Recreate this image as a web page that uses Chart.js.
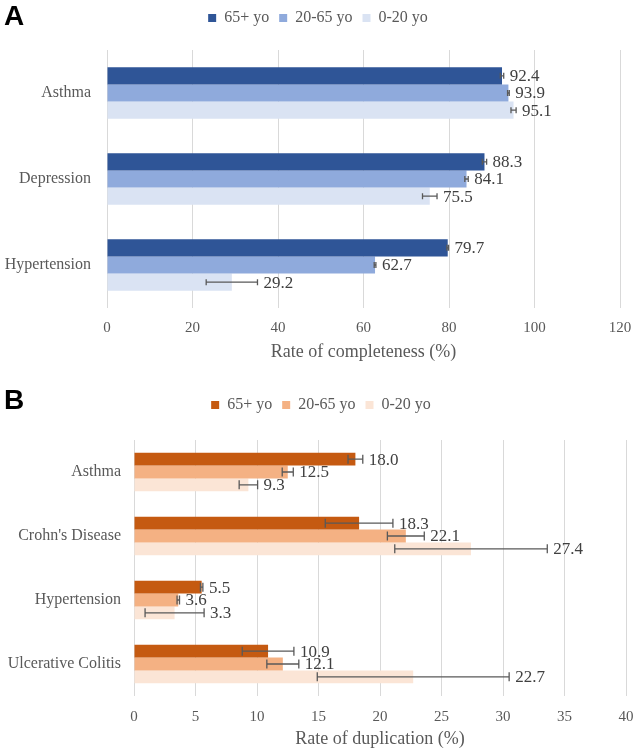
<!DOCTYPE html>
<html>
<head>
<meta charset="utf-8">
<script src="https://cdn.jsdelivr.net/npm/chart.js@4/dist/chart.umd.min.js"></script>
<style>
  html, body { margin: 0; padding: 0; background: #fff; }
  body { width: 633px; height: 754px; position: relative; overflow: hidden; }
  .panel { position: absolute; left: 0; width: 633px; }
  #boxA { top: 0; height: 375px; }
  #boxB { top: 387px; height: 367px; }
  .tag { position: absolute; left: 4px; font: bold 28px "Liberation Sans", Arial, sans-serif; color: #000; }
</style>
</head>
<body>
<div class="panel" id="boxA"><canvas id="chartA"></canvas></div>
<div class="panel" id="boxB"><canvas id="chartB"></canvas></div>
<div class="tag" style="top:0px">A</div>
<div class="tag" style="top:384px">B</div>
<script>
// legend names
var ageGroups = ['65+ yo', '20-65 yo', '0-20 yo'];

// A. completeness
var diseasesA = ['Asthma', 'Depression', 'Hypertension'];
var completeOld = [92.4, 88.3, 79.7];
var completeAdult = [93.9, 84.1, 62.7];
var completeYoung = [95.1, 75.5, 29.2];
var completeOldErr = [0.4, 0.5, 0.2];
var completeAdultErr = [0.2, 0.4, 0.2];
var completeYoungErr = [0.6, 1.7, 6.0];
var ticksA = [0, 20, 40, 60, 80, 100, 120];

// B. duplication
var diseasesB = ['Asthma', "Crohn's Disease", 'Hypertension', 'Ulcerative Colitis'];
var dupOld = [18.0, 18.3, 5.5, 10.9];
var dupAdult = [12.5, 22.1, 3.6, 12.1];
var dupYoung = [9.3, 27.4, 3.3, 22.7];
var dupOldErr = [0.6, 2.75, 0.1, 2.1];
var dupAdultErr = [0.45, 1.5, 0.1, 1.3];
var dupYoungErr = [0.75, 6.2, 2.4, 7.8];
var ticksB = [0, 5, 10, 15, 20, 25, 30, 35, 40];

var serif = '"Liberation Serif", "Times New Roman", serif';
var grey = '#595959';

// error bars + value labels
var errorBars = {
  id: 'errorBars',
  afterDatasetsDraw: function(chart, args, opts) {
    var ctx = chart.ctx;
    var xs = chart.scales.x;
    chart.data.datasets.forEach(function(ds, i) {
      var meta = chart.getDatasetMeta(i);
      meta.data.forEach(function(bar, j) {
        var v = ds.data[j], e = ds.errors[j];
        var x0 = xs.getPixelForValue(v - e);
        var x1 = xs.getPixelForValue(v + e);
        var y = bar.y;
        ctx.save();
        ctx.strokeStyle = grey;
        ctx.lineWidth = 1.3;
        ctx.beginPath();
        ctx.moveTo(x0, y); ctx.lineTo(x1, y);
        ctx.moveTo(x0, y - opts.cap); ctx.lineTo(x0, y + opts.cap);
        ctx.moveTo(x1, y - opts.cap); ctx.lineTo(x1, y + opts.cap);
        ctx.stroke();
        ctx.fillStyle = '#404040';
        ctx.font = '17px ' + serif;
        ctx.textBaseline = 'middle';
        ctx.textAlign = 'left';
        ctx.fillText(v.toFixed(1), Math.max(x1, bar.x) + 6, y + 1);
        ctx.restore();
      });
    });
  }
};

// nudge legend a little right, like the original
var legendShift = {
  id: 'legendShift',
  afterLayout: function(chart) {
    chart.legend.left += 8;
    chart.legend.right += 8;
  }
};

function makeChart(id, labels, series, errs, colors, ticks, title, opt) {
  var datasets = series.map(function(d, i) {
    return {
      label: ageGroups[i],
      data: d,
      errors: errs[i],
      backgroundColor: colors[i],
      barPercentage: 1,
      categoryPercentage: 0.6
    };
  });
  return new Chart(document.getElementById(id), {
    type: 'bar',
    data: { labels: labels, datasets: datasets },
    plugins: [errorBars, legendShift],
    options: {
      indexAxis: 'y',
      responsive: true,
      maintainAspectRatio: false,
      animation: false,
      layout: { padding: { top: 0, right: opt.right, bottom: opt.bottom, left: 0 } },
      plugins: {
        legend: {
          position: 'top',
          labels: {
            boxWidth: 8, boxHeight: 8, padding: 10,
            color: grey, font: { family: serif, size: 16 }
          }
        },
        subtitle: { display: true, text: '', weight: 500, padding: 0, font: { size: opt.spacer, lineHeight: 1 } },
        tooltip: { enabled: false },
        errorBars: { cap: opt.cap }
      },
      scales: {
        x: {
          min: ticks[0],
          max: ticks[ticks.length - 1],
          afterBuildTicks: function(s) { s.ticks = ticks.map(function(t) { return { value: t }; }); },
          afterFit: function(s) { s.height = opt.xh; s.paddingLeft = 0; s.paddingRight = 0; },
          grid: { color: '#D9D9D9', lineWidth: 1, drawTicks: false },
          border: { display: false },
          ticks: { color: grey, padding: opt.tickPad, font: { family: serif, size: 15 } },
          title: { display: true, text: title, color: grey, padding: { top: 4, bottom: 4 }, font: { family: serif, size: 18 } }
        },
        y: {
          afterFit: function(s) { s.width = opt.yw; },
          grid: { display: false, drawTicks: false },
          border: { display: false },
          ticks: { color: grey, padding: opt.yPad, font: { family: serif, size: 16 } }
        }
      }
    }
  });
}

makeChart('chartA', diseasesA,
  [completeOld, completeAdult, completeYoung],
  [completeOldErr, completeAdultErr, completeYoungErr],
  ['#2F5597', '#8FAADC', '#DAE3F3'], ticksA, 'Rate of completeness (%)',
  { right: 13, bottom: 8, xh: 59, yw: 107, tickPad: 11, yPad: 16, spacer: 14, cap: 3 });

makeChart('chartB', diseasesB,
  [dupOld, dupAdult, dupYoung],
  [dupOldErr, dupAdultErr, dupYoungErr],
  ['#C55A11', '#F4B183', '#FBE5D6'], ticksB, 'Rate of duplication (%)',
  { right: 7, bottom: 0, xh: 58, yw: 134, tickPad: 12, yPad: 13, spacer: 17, cap: 4.5 });
</script>
</body>
</html>
